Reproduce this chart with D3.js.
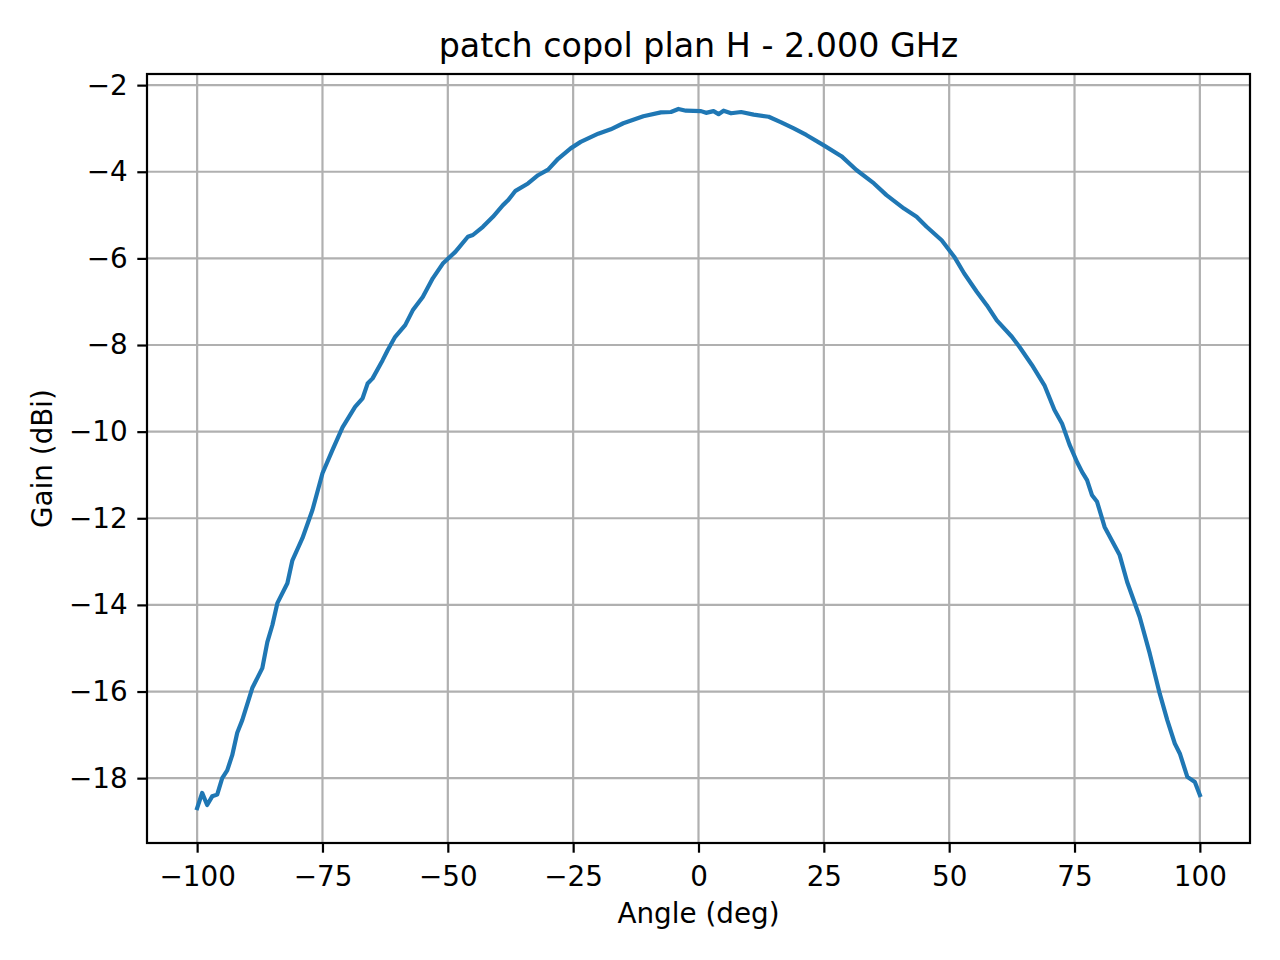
<!DOCTYPE html>
<html>
<head>
<meta charset="utf-8">
<script src="https://cdn.jsdelivr.net/npm/d3@7"></script>
<style>
  body { margin: 0; background: #fff; }
  svg text { font-family: "DejaVu Sans", sans-serif; fill: #000; }
  .grid line { stroke: #b0b0b0; stroke-width: 2.2; }
  .axis path { display: none; }
  .axis line { stroke: #000; stroke-width: 2.2; }
</style>
</head>
<body>
<div class="chart"></div>
<script>
const angles = [-100, -99, -98, -97, -96, -95, -94, -93, -92, -91, -89, -87, -86, -85, -84, -82, -81, -79, -77, -75,
  -73, -71, -68.5, -67, -66, -65, -63, -62, -60.5, -58.5, -57, -55, -53, -51, -48.5, -46, -45, -43, -41, -39,
  -38, -36.5, -34, -32, -30, -28, -25.5, -23.5, -20, -17.5, -15, -11, -7.5, -5.5, -4, -2.5, 0.5, 1.5, 3, 4,
  5, 6.5, 8.5, 11, 14, 16.5, 19, 21.5, 25, 28.5, 31.5, 35, 37.5, 41, 43.5, 45.5, 48.5, 51, 53, 55.5,
  57.5, 59.5, 62.5, 64, 66.5, 69, 71, 72.5, 74, 75.5, 76.5, 77.5, 78.5, 79.5, 81, 84, 85.5, 88, 90, 92,
  93.5, 95, 96, 97.5, 99, 100];
const gain = [-18.69, -18.34, -18.62, -18.42, -18.38, -18.00, -17.82, -17.47, -16.95, -16.66, -15.92, -15.46, -14.86, -14.47, -13.96, -13.50, -12.97, -12.46, -11.81, -10.96,
  -10.42, -9.90, -9.43, -9.23, -8.89, -8.77, -8.35, -8.12, -7.81, -7.54, -7.20, -6.89, -6.46, -6.12, -5.85, -5.50, -5.46, -5.27, -5.04, -4.77,
  -4.66, -4.44, -4.27, -4.08, -3.95, -3.70, -3.46, -3.31, -3.12, -3.02, -2.88, -2.72, -2.63, -2.62, -2.55, -2.59, -2.60, -2.64, -2.60, -2.67,
  -2.59, -2.65, -2.62, -2.68, -2.73, -2.86, -3.00, -3.15, -3.39, -3.64, -3.96, -4.27, -4.54, -4.85, -5.04, -5.27, -5.58, -5.96, -6.35, -6.77,
  -7.08, -7.43, -7.81, -8.04, -8.46, -8.93, -9.50, -9.81, -10.30, -10.70, -10.93, -11.12, -11.47, -11.62, -12.20, -12.85, -13.47, -14.28, -15.12, -16.05,
  -16.66, -17.20, -17.43, -17.97, -18.09, -18.39];
const xTicks = [-100, -75, -50, -25, 0, 25, 50, 75, 100];
const yTicks = [-18, -16, -14, -12, -10, -8, -6, -4, -2];
const title = "patch copol plan H - 2.000 GHz";

const data = angles.map((a, i) => ({angle: a, gain: gain[i]}));

var W = 1280, H = 960;
var margin = {top: 74, right: 30, bottom: 117, left: 147};
var width = W - margin.left - margin.right,
    height = H - margin.top - margin.bottom;

const svg = d3.select(".chart").append("svg")
    .attr("width", W)
    .attr("height", H)
  .append("g")
    .attr("transform", "translate(" + margin.left + "," + margin.top + ")");

// matplotlib-style 5% margins
const xExt = d3.extent(angles), yExt = d3.extent(gain);
const xPad = (xExt[1] - xExt[0]) * 0.05, yPad = (yExt[1] - yExt[0]) * 0.05;

const xScale = d3.scaleLinear()
    .domain([xExt[0] - xPad, xExt[1] + xPad])
    .range([0, width]);

const yScale = d3.scaleLinear()
    .domain([yExt[0] - yPad, yExt[1] + yPad])
    .range([height, 0]);

// grid
svg.append("g").attr("class", "grid")
    .selectAll("line.v").data(xTicks).join("line")
    .attr("x1", d => xScale(d)).attr("x2", d => xScale(d))
    .attr("y1", 0).attr("y2", height);
svg.append("g").attr("class", "grid")
    .selectAll("line.h").data(yTicks).join("line")
    .attr("x1", 0).attr("x2", width)
    .attr("y1", d => yScale(d)).attr("y2", d => yScale(d));

const fmt = d => d < 0 ? "\u2212" + Math.abs(d) : String(d);

const xAxis = d3.axisBottom(xScale).tickValues(xTicks).tickFormat(fmt).tickSize(9.7).tickPadding(13.5);
const yAxis = d3.axisLeft(yScale).tickValues(yTicks).tickFormat(fmt).tickSize(9.7).tickPadding(9.7);

svg.append("g")
    .attr("class", "axis x-axis")
    .attr("transform", `translate(0, ${height})`)
    .call(xAxis)
    .selectAll("text").style("font-size", "27.8px");

svg.append("g")
    .attr("class", "axis y-axis")
    .call(yAxis)
    .selectAll("text").style("font-size", "27.8px");

svg.append("path")
    .datum(data)
    .attr("fill", "none")
    .attr("stroke", "#1f77b4")
    .attr("stroke-width", 4.2)
    .attr("stroke-linejoin", "round")
    .attr("stroke-linecap", "square")
    .attr("d", d3.line()
        .x(d => xScale(d.angle))
        .y(d => yScale(d.gain)));

// frame
svg.append("rect")
    .attr("width", width).attr("height", height)
    .attr("fill", "none").attr("stroke", "#000").attr("stroke-width", 2.2);

svg.append("text")
    .attr("x", width / 2).attr("y", -17)
    .attr("text-anchor", "middle")
    .style("font-size", "33.3px")
    .text(title);

svg.append("text")
    .attr("x", width / 2).attr("y", height + 80)
    .attr("text-anchor", "middle")
    .style("font-size", "27.8px")
    .text("Angle (deg)");

svg.append("text")
    .attr("transform", `translate(${-95}, ${height / 2}) rotate(-90)`)
    .attr("text-anchor", "middle")
    .style("font-size", "27.8px")
    .text("Gain (dBi)");
</script>
</body>
</html>
